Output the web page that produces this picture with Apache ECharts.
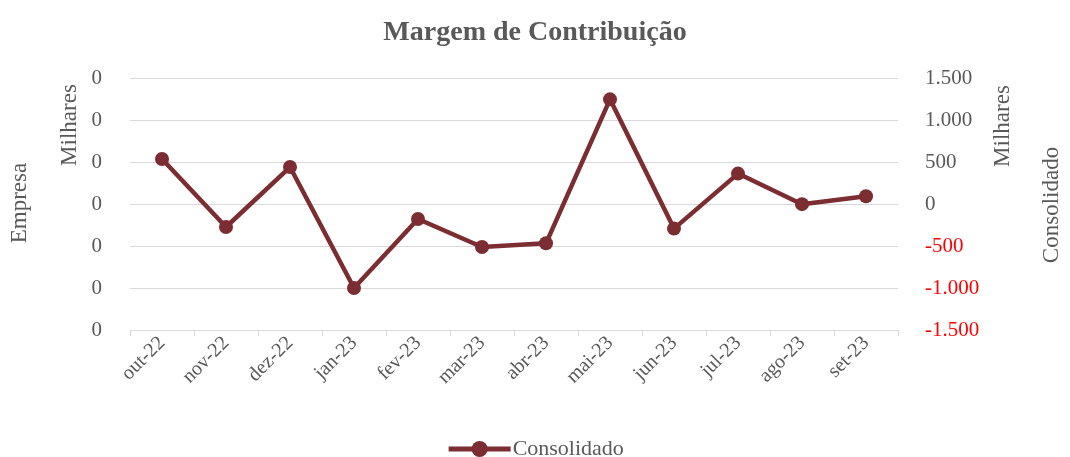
<!DOCTYPE html>
<html><head><meta charset="utf-8">
<script src="https://cdn.jsdelivr.net/npm/echarts@6/dist/echarts.min.js"></script>
<style>html,body{margin:0;padding:0;background:#fff}#c{width:1070px;height:457px}</style>
</head><body><div id="c"></div>
<script>
var categories = ['out-22','nov-22','dez-22','jan-23','fev-23','mar-23','abr-23','mai-23','jun-23','jul-23','ago-23','set-23'];
var consolidado = [536, -274, 440, -1000, -179, -512, -468, 1246, -293, 362, -2, 92];
var rightTicks = [-1500, -1000, -500, 0, 500, 1000, 1500];

var F = '"Liberation Serif", "DejaVu Serif", serif';
var G = '#595959';
var chart = echarts.init(document.getElementById('c'));
function fmtPt(v){
  var s = Math.abs(v).toString().replace(/\B(?=(\d{3})+(?!\d))/g, '.');
  return (v < 0 ? '-' : '') + s;
}
chart.setOption({
  animation: false,
  title: {text: 'Margem de Contribuição', left: 'center', top: 14,
    textStyle: {fontFamily: F, fontSize: 28, fontWeight: 'bold', color: G}},
  legend: {top: 433, left: 'center', itemWidth: 62, itemHeight: 20, itemGap: 0,
    lineStyle: {width: 5},
    textStyle: {fontFamily: F, fontSize: 22, color: G, padding: [0,0,0,-3]},
    data: ['Consolidado']},
  grid: {left: 130, right: 172, top: 78, bottom: 127},
  xAxis: {type: 'category', data: categories, boundaryGap: true,
    axisLine: {onZero: false, lineStyle: {color: '#d9d9d9', width: 1}},
    axisTick: {show: true, length: 6, lineStyle: {color: '#d9d9d9'}},
    axisLabel: {rotate: 45, fontFamily: F, fontSize: 20, color: G, margin: 10}},
  yAxis: [
    {type: 'value', min: -1.5, max: 1.5, interval: 0.5, position: 'left',
      axisLine: {show: false}, axisTick: {show: false},
      splitLine: {show: false},
      axisLabel: {formatter: function(){return '0';}, fontFamily: F, fontSize: 21, color: G, margin: 28}},
    {type: 'value', min: rightTicks[0], max: rightTicks[rightTicks.length-1], interval: 500, position: 'right',
      axisLine: {show: false}, axisTick: {show: false},
      splitLine: {show: true, lineStyle: {color: '#d9d9d9', width: 1}},
      axisLabel: {formatter: fmtPt, fontFamily: F, fontSize: 21, margin: 27,
        color: function(v){ return Number(v) < 0 ? '#ff0000' : G; }}}
  ],
  series: [{name: 'Consolidado', type: 'line', yAxisIndex: 1, data: consolidado,
    symbol: 'circle', symbolSize: 14, showAllSymbol: true,
    lineStyle: {color: '#7B2D31', width: 4.5},
    itemStyle: {color: '#7B2D31'}}],
  graphic: [
    {type: 'text', x: 70, y: 125, rotation: Math.PI/2, style: {text: 'Milhares', font: '23px ' + F, fill: G, align: 'center', verticalAlign: 'middle'}},
    {type: 'text', x: 20, y: 203, rotation: Math.PI/2, style: {text: 'Empresa', font: '23px ' + F, fill: G, align: 'center', verticalAlign: 'middle'}},
    {type: 'text', x: 1003, y: 126, rotation: Math.PI/2, style: {text: 'Milhares', font: '23px ' + F, fill: G, align: 'center', verticalAlign: 'middle'}},
    {type: 'text', x: 1052, y: 205, rotation: Math.PI/2, style: {text: 'Consolidado', font: '23px ' + F, fill: G, align: 'center', verticalAlign: 'middle'}}
  ]
});
</script></body></html>
